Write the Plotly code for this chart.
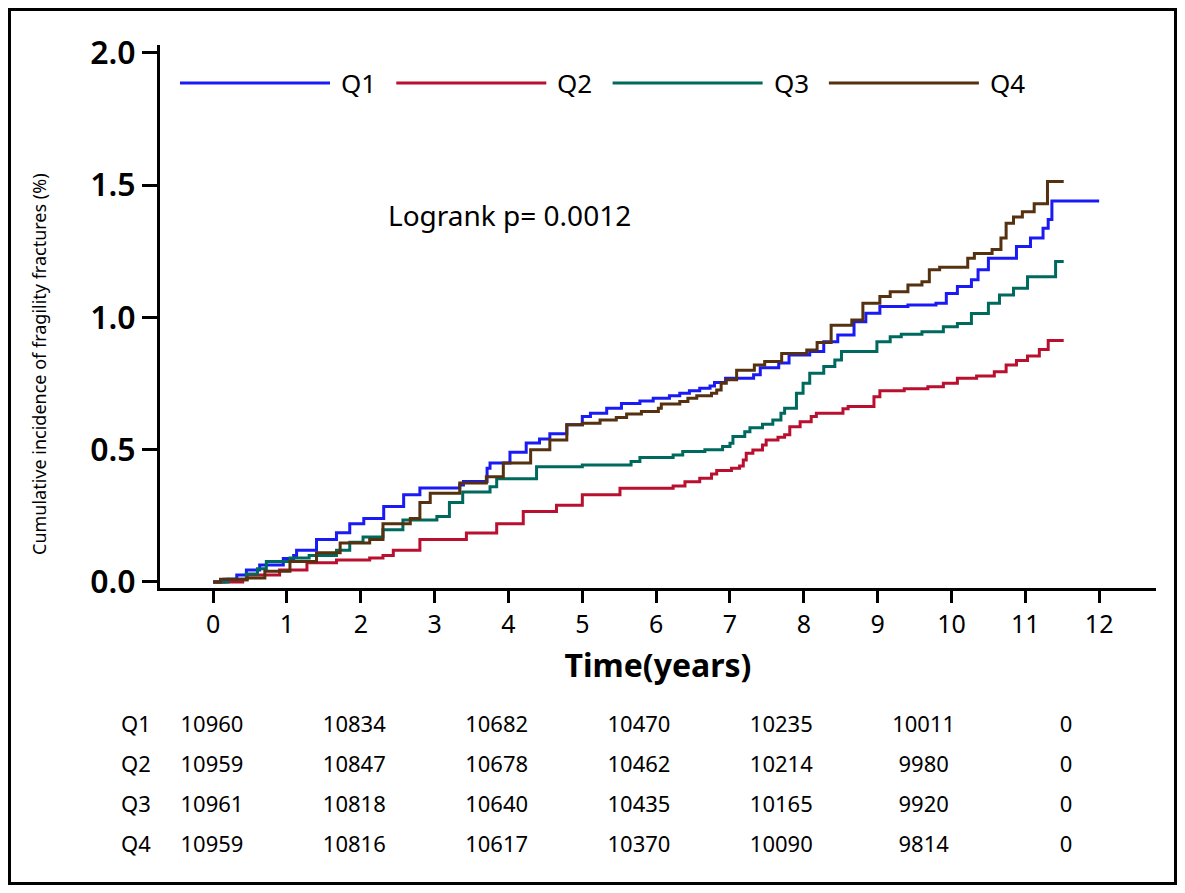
import plotly.graph_objects as go

# ============================
# Cumulative incidence (step curves)
# ============================
groups = ["Q1", "Q2", "Q3", "Q4"]
colors = ["#1A1AF5", "#B8102E", "#00695E", "#55310F"]

q1_t = [0, 0.15, 0.32, 0.45, 0.63, 0.95, 1.09, 1.13, 1.40, 1.67, 1.85, 2.04, 2.31, 2.58, 2.80, 3.34, 3.39,
        3.71, 3.75, 4.02, 4.24, 4.42, 4.56, 4.79, 5.00, 5.11, 5.33, 5.53, 5.78, 5.96, 6.18, 6.32, 6.45, 6.59,
        6.73, 6.79, 6.94, 7.32, 7.41, 7.66, 7.80, 8.08, 8.27, 8.46, 8.68, 8.84, 9.03, 9.41, 9.79, 9.93, 10.08,
        10.27, 10.36, 10.50, 10.88, 11.07, 11.24, 11.31, 11.36, 12.0]
q1_y = [0, 0.01, 0.026, 0.045, 0.064, 0.089, 0.10, 0.12, 0.16, 0.186, 0.22, 0.24, 0.285, 0.33, 0.355, 0.366, 0.38,
        0.43, 0.45, 0.49, 0.525, 0.54, 0.56, 0.594, 0.625, 0.638, 0.657, 0.675, 0.684, 0.694, 0.704, 0.713, 0.723, 0.732,
        0.741, 0.754, 0.77, 0.783, 0.81, 0.828, 0.858, 0.871, 0.908, 0.934, 0.984, 1.016, 1.041, 1.047, 1.054, 1.09, 1.117,
        1.142, 1.18, 1.224, 1.268, 1.30, 1.337, 1.37, 1.44, 1.44]

q2_t = [0, 0.40, 0.46, 0.90, 1.27, 1.67, 2.12, 2.30, 2.44, 2.80, 3.43, 3.84, 4.20, 4.65, 5.00, 5.51, 6.23, 6.39,
        6.59, 6.75, 6.82, 7.02, 7.13, 7.18, 7.22, 7.31, 7.44, 7.49, 7.65, 7.74, 7.81, 7.95, 8.10, 8.17, 8.53, 8.60,
        8.95, 9.03, 9.36, 9.68, 9.89, 10.08, 10.34, 10.58, 10.74, 10.88, 11.03, 11.19, 11.31, 11.52]
q2_y = [0, 0.007, 0.026, 0.045, 0.072, 0.083, 0.09, 0.10, 0.12, 0.16, 0.185, 0.22, 0.266, 0.29, 0.33, 0.354, 0.363, 0.379,
        0.392, 0.408, 0.421, 0.43, 0.438, 0.461, 0.486, 0.499, 0.518, 0.537, 0.547, 0.556, 0.587, 0.606, 0.625, 0.638, 0.655, 0.663,
        0.70, 0.723, 0.73, 0.738, 0.751, 0.77, 0.779, 0.795, 0.82, 0.837, 0.854, 0.879, 0.913, 0.913]

q3_t = [0, 0.20, 0.45, 0.60, 0.72, 1.04, 1.30, 1.67, 1.85, 2.03, 2.30, 2.57, 3.03, 3.20, 3.38, 3.75, 3.84, 4.38,
        5.00, 5.66, 5.78, 6.23, 6.36, 6.66, 6.90, 7.00, 7.04, 7.20, 7.27, 7.44, 7.58, 7.69, 7.74, 7.90, 7.99, 8.08,
        8.27, 8.42, 8.51, 8.99, 9.17, 9.32, 9.60, 9.89, 10.08, 10.27, 10.50, 10.65, 10.84, 11.03, 11.41, 11.52]
q3_y = [0, 0.01, 0.03, 0.05, 0.077, 0.09, 0.10, 0.12, 0.15, 0.17, 0.197, 0.234, 0.247, 0.30, 0.34, 0.36, 0.39, 0.435,
        0.442, 0.455, 0.47, 0.48, 0.493, 0.50, 0.512, 0.524, 0.55, 0.568, 0.583, 0.596, 0.612, 0.638, 0.657, 0.713, 0.751, 0.789,
        0.814, 0.839, 0.871, 0.908, 0.927, 0.936, 0.946, 0.965, 0.977, 1.015, 1.054, 1.085, 1.11, 1.154, 1.211, 1.211]

q4_t = [0, 0.10, 0.46, 0.70, 1.04, 1.40, 1.72, 2.12, 2.30, 2.67, 2.80, 2.94, 3.34, 3.70, 3.93, 4.30, 4.56, 4.79,
        5.00, 5.24, 5.46, 5.60, 5.80, 6.03, 6.07, 6.32, 6.43, 6.55, 6.75, 6.82, 6.88, 6.95, 7.09, 7.33, 7.47, 7.70,
        8.04, 8.18, 8.37, 8.65, 8.80, 9.03, 9.17, 9.41, 9.60, 9.70, 9.84, 10.22, 10.31, 10.55, 10.67, 10.74, 10.84,
        10.96, 11.12, 11.30, 11.52]
q4_y = [0, 0.01, 0.015, 0.04, 0.077, 0.11, 0.147, 0.16, 0.22, 0.24, 0.30, 0.335, 0.374, 0.398, 0.45, 0.50, 0.537, 0.594,
        0.60, 0.612, 0.622, 0.635, 0.644, 0.657, 0.673, 0.682, 0.694, 0.704, 0.713, 0.726, 0.751, 0.764, 0.80, 0.82, 0.833, 0.864,
        0.877, 0.905, 0.97, 0.99, 1.054, 1.079, 1.097, 1.123, 1.135, 1.18, 1.19, 1.224, 1.242, 1.257, 1.30, 1.356, 1.38,
        1.40, 1.43, 1.514, 1.514]

# Number at risk table
risk_times = [0, 2, 4, 6, 8, 10, 12]
risk_q1 = [10960, 10834, 10682, 10470, 10235, 10011, 0]
risk_q2 = [10959, 10847, 10678, 10462, 10214, 9980, 0]
risk_q3 = [10961, 10818, 10640, 10435, 10165, 9920, 0]
risk_q4 = [10959, 10816, 10617, 10370, 10090, 9814, 0]

curves = [(q1_t, q1_y), (q2_t, q2_y), (q3_t, q3_y), (q4_t, q4_y)]
risks = [risk_q1, risk_q2, risk_q3, risk_q4]

FONT = "Noto Sans"

# page body has an 8px margin, so the figure is drawn 8px smaller and everything shifted
OFF = 8
W, H = 1185 - 2 * OFF, 893 - 2 * OFF
ML, MR, MT, MB = 160 - OFF, 1185 - OFF - 1156, 45 - OFF, 893 - OFF - 873
pw, ph = W - ML - MR, H - MT - MB

def px(x):  # reference pixel x -> paper
    return (x - OFF - ML) / pw

def py(y):  # reference pixel y -> paper
    return (H - MB - (y - OFF)) / ph

fig = go.Figure()

for name, col, (t, y) in zip(groups, colors, curves):
    fig.add_trace(go.Scatter(x=t, y=y, mode="lines", line=dict(color=col, width=3, shape="hv"),
                             name=name, showlegend=False))

# risk table drawn on its own axes underneath
for i, (name, r) in enumerate(zip(groups, risks)):
    row = 4 - i
    fig.add_trace(go.Scatter(x=risk_times, y=[row] * len(r), mode="text", text=[str(v) for v in r],
                             textfont=dict(family=FONT, size=22, color="black"),
                             xaxis="x2", yaxis="y2", showlegend=False, cliponaxis=False))
    fig.add_annotation(text=name, xref="paper", yref="y2", x=px(136), y=row, showarrow=False, yshift=3,
                       xanchor="center", yanchor="middle", font=dict(family=FONT, size=22))

fig.update_layout(
    width=W, height=H,
    margin=dict(l=ML, r=MR, t=MT, b=MB, autoexpand=False),
    plot_bgcolor="white", paper_bgcolor="white",
    font=dict(family=FONT, color="black"),
    xaxis=dict(range=[-0.72, 12.77], domain=[0, 1], anchor="y", tickmode="linear", tick0=0, dtick=1,
               showline=True, linecolor="black", linewidth=3, ticks="outside", ticklen=12, tickwidth=3,
               tickcolor="black", showgrid=False, zeroline=False, automargin=False,
               tickfont=dict(family=FONT, size=25),
               title=dict(text="<b>Time(years)</b>", font=dict(family=FONT, size=32), standoff=16)),
    yaxis=dict(range=[-0.023, 2.03], domain=[py(588), 1], anchor="x", tickmode="array",
               tickvals=[0, 0.5, 1.0, 1.5, 2.0], ticktext=["0.0", "0.5", "1.0", "1.5", "2.0"],
               showline=True, linecolor="black", linewidth=3, ticks="outside", ticklen=15, tickwidth=3,
               tickcolor="black", showgrid=False, zeroline=False, automargin=False,
               tickfont=dict(family=FONT, size=32, weight=600)),
    xaxis2=dict(range=[-0.7307, 13.265], domain=[0, 1], anchor="y2", visible=False, automargin=False),
    yaxis2=dict(range=[0.325, 5.5], domain=[0, py(666)], anchor="x2", visible=False, automargin=False),
)

# y-axis title
fig.add_annotation(text="Cumulative incidence of fragility fractures (%)", textangle=-90,
                   xref="paper", yref="paper", x=px(39), y=py(364), showarrow=False,
                   font=dict(family=FONT, size=18), xanchor="center", yanchor="middle")

# logrank text
fig.add_annotation(text="Logrank p= 0.0012", xref="x", yref="y", x=4.02, y=1.387, showarrow=False,
                   font=dict(family=FONT, size=28), xanchor="center", yanchor="middle")

# legend: long line samples with labels
leg_y = py(83)
for i, (name, col) in enumerate(zip(groups, colors)):
    x0 = 180 + i * 216.3
    fig.add_shape(type="line", xref="paper", yref="paper", x0=px(x0), x1=px(x0 + 150), y0=leg_y, y1=leg_y,
                  line=dict(color=col, width=3))
    fig.add_annotation(text=name, xref="paper", yref="paper", x=px(x0 + 159), y=leg_y, showarrow=False,
                       xanchor="left", yanchor="middle", font=dict(family=FONT, size=26))

# outer frame
fig.add_shape(type="rect", xref="paper", yref="paper", x0=px(9.5), x1=px(1175.5), y0=py(883.5), y1=py(9.5),
              line=dict(color="black", width=3))

fig.write_html("out.html")
